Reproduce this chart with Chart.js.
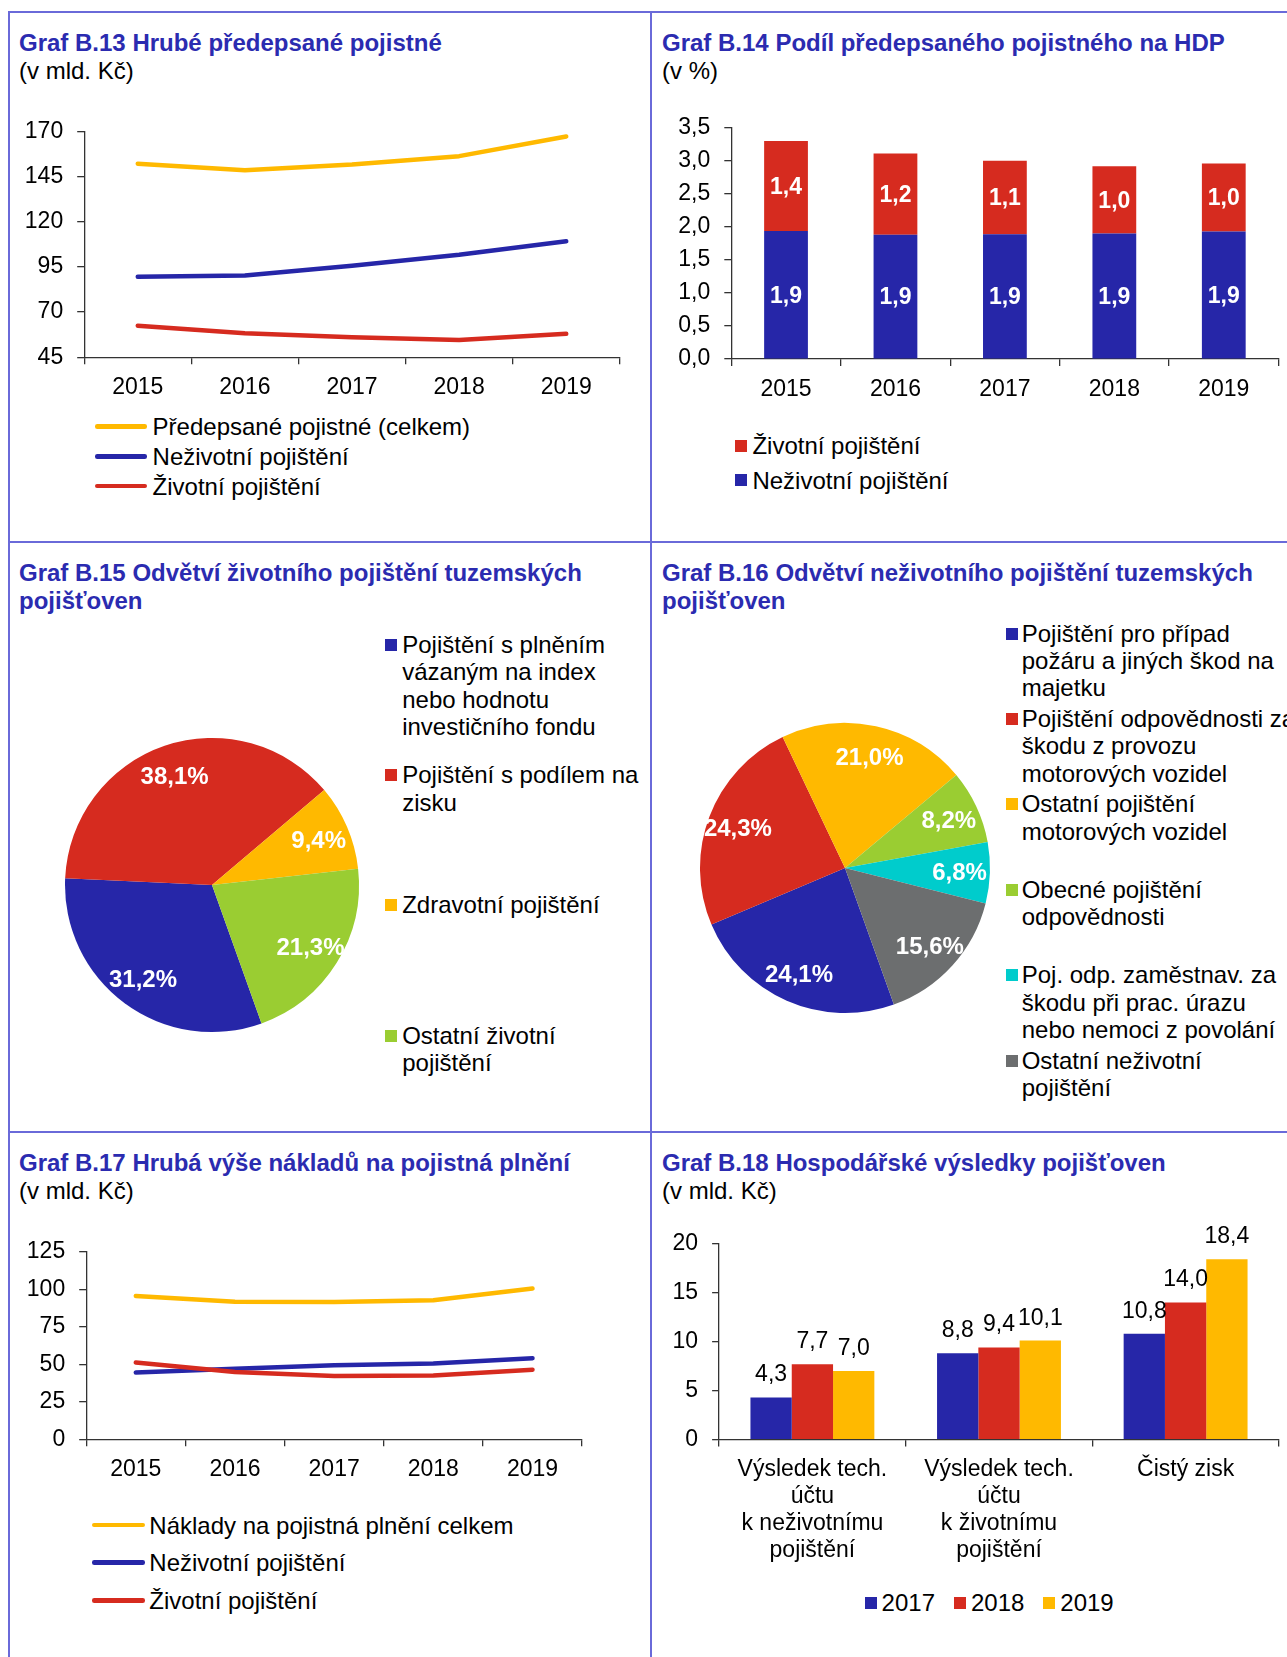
<!DOCTYPE html>
<html lang="cs">
<head>
<meta charset="utf-8">
<title>Pojišťovny - grafy B.13 až B.18</title>
<script src="https://cdn.jsdelivr.net/npm/chart.js@4.4.1/dist/chart.umd.min.js"></script>
<style>
  html, body { margin: 0; padding: 0; background: #fff; }
  body {
    position: relative; width: 1287px; height: 1657px; overflow: hidden;
    font-family: "Liberation Sans", Arial, sans-serif; color: #000;
  }
  .rule { position: absolute; background: #6a6ad9; }
  .title {
    position: absolute; font-size: 24px; line-height: 28px; font-weight: bold;
    color: #2b2bb0; white-space: nowrap;
  }
  .title .sub { font-weight: normal; color: #000; }
  canvas { position: absolute; }
  .legend-item { position: absolute; font-size: 24px; white-space: nowrap; }
  .swatch { position: absolute; display: block; }
</style>
</head>
<body>
<div class="rule" style="left:8px;top:11px;width:2px;height:1646px"></div>
<div class="rule" style="left:650px;top:11px;width:2px;height:1646px"></div>
<div class="rule" style="left:8px;top:11px;width:1279px;height:2px"></div>
<div class="rule" style="left:8px;top:541px;width:1279px;height:2px"></div>
<div class="rule" style="left:8px;top:1131px;width:1279px;height:2px"></div>

<div class="title" style="left:19px;top:29px">Graf B.13 Hrubé předepsané pojistné<br><span class="sub">(v mld. Kč)</span></div>
<div class="title" style="left:662px;top:29px">Graf B.14 Podíl předepsaného pojistného na HDP<br><span class="sub">(v %)</span></div>
<div class="title" style="left:19px;top:559px">Graf B.15 Odvětví životního pojištění tuzemských<br>pojišťoven</div>
<div class="title" style="left:662px;top:559px">Graf B.16 Odvětví neživotního pojištění tuzemských<br>pojišťoven</div>
<div class="title" style="left:19px;top:1149px">Graf B.17 Hrubá výše nákladů na pojistná plnění<br><span class="sub">(v mld. Kč)</span></div>
<div class="title" style="left:662px;top:1149px">Graf B.18 Hospodářské výsledky pojišťoven<br><span class="sub">(v mld. Kč)</span></div>

<canvas id="chart-b13" width="650" height="300" style="left:0;top:100px"></canvas>
<canvas id="chart-b14" width="635" height="300" style="left:652px;top:100px"></canvas>
<canvas id="chart-b15" width="314" height="314" style="left:55px;top:728px"></canvas>
<canvas id="chart-b16" width="310" height="310" style="left:690px;top:713px"></canvas>
<canvas id="chart-b17" width="650" height="260" style="left:0;top:1220px"></canvas>
<canvas id="chart-b18" width="635" height="370" style="left:652px;top:1200px"></canvas>

<script>
const years = ['2015', '2016', '2017', '2018', '2019'];

// B.13 gross written premium (bn CZK)
const premiumSeries = ['Předepsané pojistné (celkem)', 'Neživotní pojištění', 'Životní pojištění'];
const premiumTotal = [152.1, 148.5, 151.7, 156.3, 167.2];
const premiumNonLife = [89.6, 90.2, 95.6, 101.7, 109.2];
const premiumLife = [62.5, 58.3, 56.1, 54.6, 58.0];
const premiumTicks = [45, 70, 95, 120, 145, 170];

// B.14 premium as share of GDP (%)
const gdpSeries = ['Životní pojištění', 'Neživotní pojištění'];
const gdpLife = [1.36, 1.23, 1.11, 1.02, 1.03];
const gdpNonLife = [1.94, 1.88, 1.89, 1.90, 1.93];
const gdpTicks = [0, 0.5, 1, 1.5, 2, 2.5, 3, 3.5];

// B.15 life insurance branches (%)
const lifeBranches = [
  ['Pojištění s plněním', 'vázaným na index', 'nebo hodnotu', 'investičního fondu'],
  ['Pojištění s podílem na', 'zisku'],
  ['Zdravotní pojištění'],
  ['Ostatní životní', 'pojištění']
];
const lifeShares = [31.2, 38.1, 9.4, 21.3];

// B.16 non-life insurance branches (%)
const nonLifeBranches = [
  ['Pojištění pro případ', 'požáru a jiných škod na', 'majetku'],
  ['Pojištění odpovědnosti za', 'škodu z provozu', 'motorových vozidel'],
  ['Ostatní pojištění', 'motorových vozidel'],
  ['Obecné pojištění', 'odpovědnosti'],
  ['Poj. odp. zaměstnav. za', 'škodu při prac. úrazu', 'nebo nemoci z povolání'],
  ['Ostatní neživotní', 'pojištění']
];
const nonLifeShares = [24.1, 24.3, 21.0, 8.2, 6.8, 15.6];

// B.17 gross claims (bn CZK)
const claimsSeries = ['Náklady na pojistná plnění celkem', 'Neživotní pojištění', 'Životní pojištění'];
const claimsTotal = [95.5, 91.6, 91.5, 92.7, 100.5];
const claimsNonLife = [44.5, 47.0, 49.3, 50.4, 54.0];
const claimsLife = [51.1, 44.8, 42.1, 42.4, 46.3];
const claimsTicks = [0, 25, 50, 75, 100, 125];

// B.18 financial results (bn CZK)
const resultGroups = [
  ['Výsledek tech.', 'účtu', 'k neživotnímu', 'pojištění'],
  ['Výsledek tech.', 'účtu', 'k životnímu', 'pojištění'],
  'Čistý zisk'
];
const resultYears = ['2017', '2018', '2019'];
const result2017 = [4.3, 8.8, 10.8];
const result2018 = [7.7, 9.4, 14.0];
const result2019 = [7.0, 10.1, 18.4];
const resultTicks = [0, 5, 10, 15, 20];

const BLUE = '#2626a8';
const RED = '#d62b1f';
const YELLOW = '#ffb900';
const GREEN = '#9acd32';
const CYAN = '#00cccc';
const GREY = '#6c6e6f';
const AXIS = '#333333';
const FONT = '"Liberation Sans", Arial, sans-serif';

Chart.defaults.font.family = FONT;
Chart.defaults.font.size = 23;
Chart.defaults.color = '#000';

function comma(v, digits) {
  return v.toFixed(digits).replace('.', ',');
}

function fixedTicks(values) {
  return function(scale) {
    scale.ticks = values.map(function(v) { return { value: v }; });
  };
}

// axes with fixed box sizes so the plot area lands where the original has it
function axes(yWidth, xHeight, yTicks, yFormat, stacked, xFont) {
  return {
    x: {
      type: 'category',
      offset: true,
      stacked: stacked,
      grid: { offset: true, drawOnChartArea: false, color: AXIS, tickLength: 7, lineWidth: 1.3 },
      border: { color: AXIS, width: 1.3 },
      ticks: { padding: 10, maxRotation: 0, autoSkip: false, font: xFont || { size: 23 } },
      afterFit: function(s) { s.height = xHeight; }
    },
    y: {
      min: yTicks[0],
      max: yTicks[yTicks.length - 1],
      stacked: stacked,
      afterBuildTicks: fixedTicks(yTicks),
      grid: { drawOnChartArea: false, color: AXIS, tickLength: 7, lineWidth: 1.3 },
      border: { color: AXIS, width: 1.3 },
      ticks: { padding: 14, font: { size: 23 }, callback: yFormat },
      afterFit: function(s) { s.width = yWidth; }
    }
  };
}

const baseOptions = {
  responsive: false,
  animation: false,
  events: [],
  plugins: { legend: { display: false }, tooltip: { enabled: false } }
};

function lineOptions(yWidth, xHeight, pad, yTicks) {
  return Object.assign({}, baseOptions, {
    layout: { padding: pad },
    elements: {
      line: { borderWidth: 4.5, tension: 0, borderCapStyle: 'round', borderJoinStyle: 'round' },
      point: { radius: 0 }
    },
    scales: axes(yWidth, xHeight, yTicks, function(v) { return String(v); }, false)
  });
}

// white values in the middle of every stacked segment
const stackLabels = {
  id: 'stackLabels',
  afterDatasetsDraw: function(chart) {
    const ctx = chart.ctx;
    ctx.save();
    ctx.font = 'bold 23px ' + FONT;
    ctx.fillStyle = '#fff';
    ctx.textAlign = 'center';
    ctx.textBaseline = 'middle';
    chart.data.datasets.forEach(function(ds, i) {
      chart.getDatasetMeta(i).data.forEach(function(bar, j) {
        ctx.fillText(comma(ds.data[j], 1), bar.x, (bar.y + bar.base) / 2 + 1.5);
      });
    });
    ctx.restore();
  }
};

// black values above the bars
const topLabels = {
  id: 'topLabels',
  afterDatasetsDraw: function(chart) {
    const ctx = chart.ctx;
    ctx.save();
    ctx.font = '23px ' + FONT;
    ctx.fillStyle = '#000';
    ctx.textAlign = 'center';
    ctx.textBaseline = 'alphabetic';
    chart.data.datasets.forEach(function(ds, i) {
      chart.getDatasetMeta(i).data.forEach(function(bar, j) {
        ctx.fillText(comma(ds.data[j], 1), bar.x, bar.y - 16);
      });
    });
    ctx.restore();
  }
};

// percentages inside the pie slices
const sliceLabels = {
  id: 'sliceLabels',
  afterDatasetsDraw: function(chart) {
    const ctx = chart.ctx;
    const ds = chart.data.datasets[0];
    ctx.save();
    ctx.font = 'bold 24px ' + FONT;
    ctx.fillStyle = '#fff';
    ctx.textAlign = 'center';
    ctx.textBaseline = 'middle';
    chart.getDatasetMeta(0).data.forEach(function(arc, i) {
      const p = arc.getProps(['x', 'y', 'startAngle', 'endAngle', 'outerRadius']);
      const mid = (p.startAngle + p.endAngle) / 2;
      const r = p.outerRadius * 0.79;
      ctx.fillText(comma(ds.data[i], 1) + '%', p.x + Math.cos(mid) * r, p.y + Math.sin(mid) * r + 2);
    });
    ctx.restore();
  }
};

// html legend, one absolutely placed item per series
function addLegend(cfg) {
  const lh = cfg.lineHeight || 27;
  const base = (lh - 26.8) / 2 + 21.72;
  cfg.labels.forEach(function(label, i) {
    const lines = Array.isArray(label) ? label : [label];
    const item = document.createElement('div');
    item.className = 'legend-item';
    item.style.left = (cfg.textLeft + i * (cfg.stepX || 0)) + 'px';
    item.style.top = (cfg.baseline + i * (cfg.stepY || 0) - base) + 'px';
    item.style.lineHeight = lh + 'px';
    item.innerHTML = lines.join('<br>');

    const sw = document.createElement('span');
    sw.className = 'swatch';
    sw.style.background = cfg.colors[i];
    sw.style.left = (cfg.swatchLeft - cfg.textLeft) + 'px';
    if (cfg.swatch === 'line') {
      sw.style.width = cfg.swatchWidth + 'px';
      sw.style.height = '4.5px';
      sw.style.top = (base - 8.5 - 2.25) + 'px';
      sw.style.borderRadius = '2.25px';
    } else {
      sw.style.width = '12px';
      sw.style.height = '12px';
      sw.style.top = (base - 14) + 'px';
    }
    item.appendChild(sw);
    document.body.appendChild(item);
  });
}

document.addEventListener('DOMContentLoaded', function() {
  // B.13 Chart
  new Chart(document.getElementById('chart-b13'), {
    type: 'line',
    data: {
      labels: years,
      datasets: [
        { label: premiumSeries[0], data: premiumTotal, borderColor: YELLOW, order: 2 },
        { label: premiumSeries[1], data: premiumNonLife, borderColor: BLUE, order: 1 },
        { label: premiumSeries[2], data: premiumLife, borderColor: RED, order: 0 }
      ]
    },
    options: lineOptions(84.2, 42.7, { left: 0, top: 31.4, right: 30.2, bottom: 0 }, premiumTicks)
  });
  addLegend({
    labels: premiumSeries, colors: [YELLOW, BLUE, RED], swatch: 'line',
    textLeft: 152.6, swatchLeft: 94.5, swatchWidth: 52.5, baseline: 435.2, stepY: 29.7
  });

  // B.14 Chart
  new Chart(document.getElementById('chart-b14'), {
    type: 'bar',
    data: {
      labels: years,
      datasets: [
        { label: gdpSeries[1], data: gdpNonLife, backgroundColor: BLUE },
        { label: gdpSeries[0], data: gdpLife, backgroundColor: RED }
      ]
    },
    options: Object.assign({}, baseOptions, {
      layout: { padding: { left: 0, top: 27.2, right: 8.5, bottom: 0 } },
      datasets: { bar: { categoryPercentage: 1, barPercentage: 0.4, borderWidth: 0 } },
      scales: axes(79.3, 40.9, gdpTicks, function(v) { return comma(v, 1); }, true)
    }),
    plugins: [stackLabels]
  });
  addLegend({
    labels: gdpSeries, colors: [RED, BLUE], swatch: 'square',
    textLeft: 752.4, swatchLeft: 735.3, baseline: 453.6, stepY: 34.8
  });

  // B.15 Chart
  new Chart(document.getElementById('chart-b15'), {
    type: 'pie',
    data: {
      labels: lifeBranches,
      datasets: [{ data: lifeShares, backgroundColor: [BLUE, RED, YELLOW, GREEN], borderWidth: 0 }]
    },
    options: Object.assign({}, baseOptions, {
      rotation: 160.3,
      layout: { padding: 10 }
    }),
    plugins: [sliceLabels]
  });
  addLegend({
    labels: lifeBranches, colors: [BLUE, RED, YELLOW, GREEN], swatch: 'square',
    textLeft: 402.2, swatchLeft: 384.7, baseline: 652.7, stepY: 130.4, lineHeight: 27.6
  });

  // B.16 Chart
  new Chart(document.getElementById('chart-b16'), {
    type: 'pie',
    data: {
      labels: nonLifeBranches,
      datasets: [{ data: nonLifeShares, backgroundColor: [BLUE, RED, YELLOW, GREEN, CYAN, GREY], borderWidth: 0 }]
    },
    options: Object.assign({}, baseOptions, {
      rotation: 160.3,
      layout: { padding: 10 }
    }),
    plugins: [sliceLabels]
  });
  addLegend({
    labels: nonLifeBranches, colors: [BLUE, RED, YELLOW, GREEN, CYAN, GREY], swatch: 'square',
    textLeft: 1021.7, swatchLeft: 1005.5, baseline: 641.7, stepY: 85.4, lineHeight: 27.4
  });

  // B.17 Chart
  new Chart(document.getElementById('chart-b17'), {
    type: 'line',
    data: {
      labels: years,
      datasets: [
        { label: claimsSeries[0], data: claimsTotal, borderColor: YELLOW, order: 2 },
        { label: claimsSeries[1], data: claimsNonLife, borderColor: BLUE, order: 1 },
        { label: claimsSeries[2], data: claimsLife, borderColor: RED, order: 0 }
      ]
    },
    options: lineOptions(86.2, 40.8, { left: 0, top: 31.7, right: 67.9, bottom: 0 }, claimsTicks)
  });
  addLegend({
    labels: claimsSeries, colors: [YELLOW, BLUE, RED], swatch: 'line',
    textLeft: 149.3, swatchLeft: 92, swatchWidth: 53, baseline: 1533.4, stepY: 37.8
  });

  // B.18 Chart
  new Chart(document.getElementById('chart-b18'), {
    type: 'bar',
    data: {
      labels: resultGroups,
      datasets: [
        { label: resultYears[0], data: result2017, backgroundColor: BLUE },
        { label: resultYears[1], data: result2018, backgroundColor: RED },
        { label: resultYears[2], data: result2019, backgroundColor: YELLOW }
      ]
    },
    options: Object.assign({}, baseOptions, {
      layout: { padding: { left: 0, top: 43.6, right: 8.1, bottom: 0 } },
      datasets: { bar: { categoryPercentage: 0.664, barPercentage: 1, borderWidth: 0 } },
      scales: axes(67.1, 130.4, resultTicks, function(v) { return String(v); }, false,
        { size: 23, lineHeight: 27 / 23 })
    }),
    plugins: [topLabels]
  });
  addLegend({
    labels: resultYears, colors: [BLUE, RED, YELLOW], swatch: 'square',
    textLeft: 881.6, swatchLeft: 864.5, baseline: 1610.7, stepX: 89.35
  });
});
</script>
</body>
</html>
